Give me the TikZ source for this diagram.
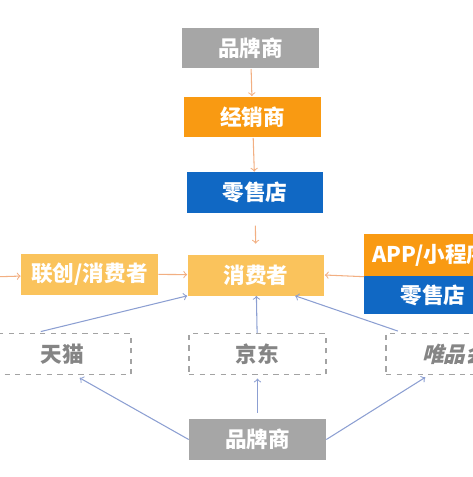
\documentclass[tikz,border=0pt]{standalone}
\usepackage{fontspec}
\setmainfont{Noto Sans CJK SC}
\newfontfamily\slantcjk{Noto Sans CJK SC}[FakeSlant=0.25]
\usetikzlibrary{calc}

\definecolor{brandgray}{HTML}{A6A6A6}
\definecolor{dealerorange}{HTML}{F99A12}
\definecolor{shopblue}{HTML}{1068C4}
\definecolor{userygold}{HTML}{FAC35C}
\definecolor{salmon}{HTML}{F2AF82}
\definecolor{linkblue}{HTML}{8C9FD2}
\definecolor{dashgray}{HTML}{A3A3A3}
\definecolor{textgray}{HTML}{858585}

\begin{document}
\begin{tikzpicture}[x=0.02cm, y=-0.02cm,
  every node/.style={font=\fontsize{12.3}{15}\selectfont\bfseries},
  box/.style={minimum width=2.74cm, minimum height=0.82cm, inner sep=0pt, text=white},
  shopbox/.style={box, fill=#1},
  platform/.style={box, draw=dashgray, dashed, line width=0.6pt, text=textgray},
  flow/.style={->, draw=salmon, line width=0.6pt},
  online/.style={->, draw=linkblue, line width=0.6pt}]
  \useasboundingbox (0,0) rectangle (473,477);
  \clip (0,0) rectangle (473,477);

  % offline chain
  \node[shopbox=brandgray] (brandtop) at (250.5,48) {品牌商};
  \node[shopbox=dealerorange] (dealer) at (252.5,117) {经销商};
  \node[shopbox=shopblue] (retail) at (255,192.5) {零售店};
  \node[shopbox=userygold] (consumer) at (256,275) {消费者};

  % side channels
  \node[shopbox=userygold] (cocreate) at (89.5,274) {联创/消费者};
  \node[shopbox=dealerorange, minimum height=0.84cm, anchor=north west,
        inner xsep=0.16cm, text width=2.5cm, align=left] (app) at (364,234) {APP/小程序};
  \node[shopbox=shopblue, minimum height=0.76cm, anchor=north west] (retailb) at (364,276) {零售店};
  \coordinate (fromleft) at (-10,277);

  % online platforms
  \node[platform] (tmall) at (62.5,354) {天猫};
  \node[platform] (jd) at (257.5,354) {京东};
  \node[platform, font=\fontsize{12.3}{15}\selectfont\slantcjk\bfseries] (vip) at (454.5,354) {唯品会};
  \node[shopbox=brandgray] (brandbot) at (257.5,439.5) {品牌商};

  % arrows
  \draw[flow] (brandtop) -- (dealer);
  \draw[flow] (dealer) -- (retail);
  \draw[flow, shorten <=7pt, shorten >=6pt] (retail) -- (consumer);
  \draw[flow] (fromleft) -- (cocreate);
  \draw[flow] (cocreate) -- (consumer);
  \draw[flow] (app.south west) -- (consumer.east);

  \draw[online, shorten <=3.4pt] ($(tmall.north)+(-27.5,0)$) -- (consumer.south west);
  \draw[online] (jd) -- (consumer);
  \draw[online, shorten <=3.4pt] ($(vip.north)+(-51,0)$) -- (consumer.-28);

  \draw[online, shorten >=3.4pt] (brandbot.west) -- ($(tmall.south)+(12,0)$);
  \draw[online, shorten <=3.4pt, shorten >=2pt] (brandbot) -- (jd);
  \draw[online, shorten >=2.5pt] (brandbot.east) -- ($(vip.south)+(-25.5,0)$);
\end{tikzpicture}
\end{document}
